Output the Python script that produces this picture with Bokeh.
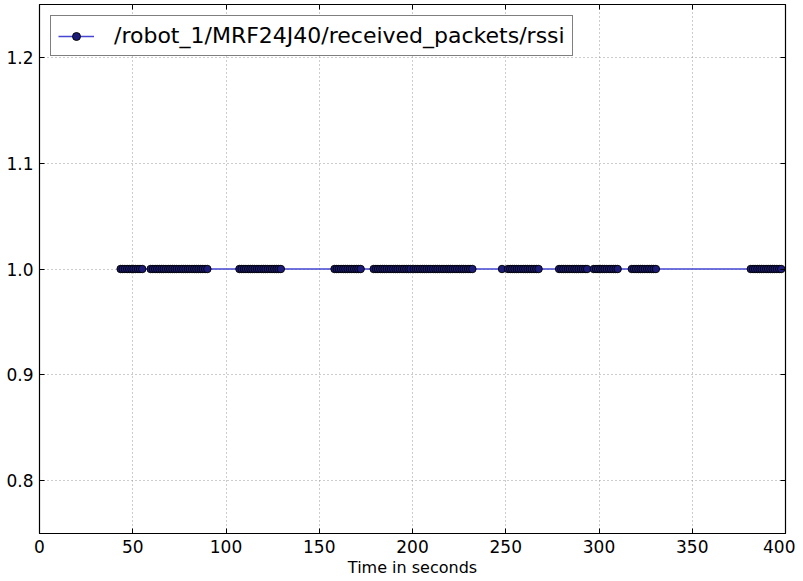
from bokeh.plotting import figure
from bokeh.models import (FixedTicker, LinearAxis, Range1d, Legend, LegendItem,
                          NumeralTickFormatter, ColumnDataSource, CustomJSTickFormatter)
from bokeh.embed import file_html
from bokeh.resources import INLINE

series_label = "/robot_1/MRF24J40/received_packets/rssi"
x_label = "Time in seconds"
x_ticks = [0, 50, 100, 150, 200, 250, 300, 350, 400]
y_ticks = [0.8, 0.9, 1.0, 1.1, 1.2]

burst_1 = [43.5, 44.6, 45.8, 47.0, 48.1, 49.3, 50.4, 51.6, 52.8, 53.9, 55.1]
burst_2 = [59.6, 60.8, 62.0, 63.1, 64.3, 65.5, 66.6, 67.8]
burst_3 = [69.0, 70.1, 71.3, 72.5, 73.6, 74.8, 76.0, 77.1, 78.3, 79.5, 80.6,
           81.8, 83.0, 84.1, 85.3, 86.5, 87.6, 88.8, 90.0]
burst_4 = [107.2, 108.4, 109.6, 110.7, 111.9, 113.1, 114.2, 115.4, 116.6, 117.7,
           118.9, 120.1, 121.2, 122.4, 123.6, 124.7, 125.9, 127.1, 128.2, 129.4]
burst_5 = [158.2, 159.4, 160.5, 161.7, 162.9, 164.0, 165.2, 166.4, 167.5, 168.7,
           169.9, 171.0, 172.2]
burst_6 = [179.2, 180.4, 181.5, 182.7, 183.9, 185.0, 186.2, 187.4, 188.5, 189.7,
           190.9, 192.0, 193.2, 194.4, 195.5, 196.7, 197.9, 199.0]
burst_7 = [200.6, 201.8, 202.9, 204.1, 205.3, 206.4, 207.6, 208.8, 209.9, 211.1,
           212.3, 213.4, 214.6, 215.8, 216.9, 218.1, 219.3, 220.4, 221.6, 222.8,
           223.9, 225.1, 226.3, 227.4, 228.6, 229.8, 230.9, 232.1]
burst_8 = [248.0, 251.2, 252.4, 253.5, 254.7, 255.9, 257.0, 258.2, 259.4, 260.5,
           261.7, 262.9, 264.0, 265.2, 266.4, 267.6]
burst_9 = [278.6, 279.8, 280.9, 282.1, 283.3, 284.4, 285.6, 286.8, 287.9, 289.1,
           290.3, 291.4, 292.6, 293.6]
burst_10 = [297.2, 298.4, 299.5, 300.7, 301.9, 303.0, 304.2, 305.4, 306.5, 307.7,
            308.9, 310.0]
burst_11 = [317.6, 318.8, 319.9, 321.1, 322.3, 323.4, 324.6, 325.8, 326.9, 328.1,
            329.3, 330.5]
burst_12 = [381.4, 382.6, 383.7, 384.9, 386.1, 387.2, 388.4, 389.6, 390.7, 391.9,
            393.1, 394.2, 395.4, 396.6, 397.7]
rssi_value = 1.0

times = (burst_1 + burst_2 + burst_3 + burst_4 + burst_5 + burst_6 + burst_7 +
         burst_8 + burst_9 + burst_10 + burst_11 + burst_12)
rssi = [rssi_value] * len(times)

FONT = "DejaVu Sans"

p = figure(frame_width=746, frame_height=529,
           x_range=Range1d(0, 400), y_range=Range1d(0.75, 1.25),
           output_backend="svg", toolbar_location=None,
           min_border_left=39, min_border_right=10, min_border_top=4,
           min_border_bottom=4, background_fill_color="white")

src = ColumnDataSource(dict(t=times, v=rssi))
ln = p.line("t", "v", source=src, line_color="#4646d2", line_width=1.4)
sc = p.scatter("t", "v", source=src, size=7.5, fill_color="#1c1c78",
               line_color="black", line_width=0.9)

p.outline_line_color = "black"
p.outline_line_width = 1.2

for ax in (p.xaxis[0], p.yaxis[0]):
    ax.major_tick_in = 5
    ax.major_tick_out = 0
    ax.minor_tick_line_color = None
    ax.axis_line_color = "black"
    ax.major_label_text_font = FONT
    ax.major_label_text_font_size = "17px"
    ax.major_label_text_color = "black"
    ax.major_label_standoff = 6

p.xaxis[0].ticker = FixedTicker(ticks=x_ticks)
p.yaxis[0].ticker = FixedTicker(ticks=y_ticks)
p.yaxis[0].formatter = NumeralTickFormatter(format="0.0")
p.xaxis[0].axis_label = x_label
p.xaxis[0].axis_label_text_font = FONT
p.xaxis[0].axis_label_text_font_style = "normal"
p.xaxis[0].axis_label_text_font_size = "16px"
p.xaxis[0].axis_label_text_color = "black"
p.xaxis[0].axis_label_standoff = 2

blank = CustomJSTickFormatter(code="return ''")
top = LinearAxis(ticker=FixedTicker(ticks=x_ticks), major_tick_in=5, major_tick_out=0,
                 minor_tick_line_color=None, formatter=blank,
                 axis_line_color=None, major_label_standoff=0)
right = LinearAxis(ticker=FixedTicker(ticks=y_ticks), major_tick_in=5,
                   major_tick_out=0, minor_tick_line_color=None,
                   formatter=blank, axis_line_color=None,
                   major_label_standoff=0)
p.add_layout(top, "above")
p.add_layout(right, "right")

p.xgrid.ticker = FixedTicker(ticks=x_ticks)
p.ygrid.ticker = FixedTicker(ticks=y_ticks)
for g in (p.xgrid[0], p.ygrid[0]):
    g.grid_line_color = "#9a9a9a"
    g.grid_line_dash = "1 3"
    g.grid_line_width = 1

legend = Legend(items=[LegendItem(label=series_label, renderers=[ln, sc])],
                location="top_left", border_line_color="black", border_line_width=1.2,
                label_text_font=FONT, label_text_font_size="22px",
                label_text_color="black",
                glyph_width=36, glyph_height=20, padding=7, margin=11,
                spacing=0, label_standoff=20, background_fill_alpha=1)
p.add_layout(legend)

open("out.html", "w").write(file_html(p, INLINE))
